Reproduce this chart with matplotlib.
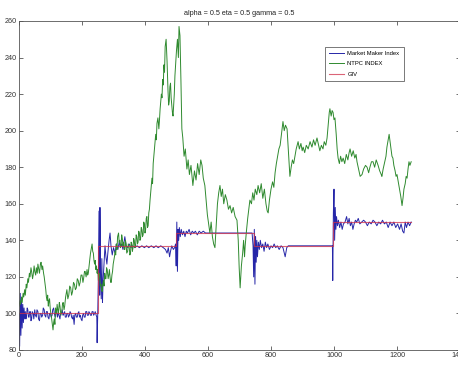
import numpy as np
import matplotlib
matplotlib.use("Agg")
import matplotlib.pyplot as plt

# NTPC index (day, price)
ntpc_pts = [
    (0,104),(3,107),(5,105),(8,109),(10,106),(13,111),(15,109),(18,113),(20,110),(23,116),
    (25,114),(28,119),(30,117),(33,122),(35,120),(38,125),(40,123),(43,119),(45,121),(48,126),
    (50,123),(53,121),(55,125),(58,122),(60,127),(63,124),(65,122),(68,127),(70,128),(73,124),
    (75,126),(78,122),(80,120),(83,116),(85,113),(87,109),(89,107),(91,110),(93,104),(95,107),
    (97,108),(99,103),(101,100),(103,98),(105,95),(108,91),(110,95),(112,97),(114,94),(116,103),
    (119,100),(121,105),(123,102),(125,100),(128,106),(130,104),(133,99),(136,101),(138,105),(140,106),
    (143,102),(145,104),(148,109),(152,113),(155,108),(158,110),(161,115),(164,114),(167,110),(170,112),
    (173,117),(176,116),(179,113),(182,114),(185,119),(188,118),(191,115),(194,117),(197,121),(200,121),
    (203,117),(205,119),(208,123),(210,123),(213,120),(216,124),(218,121),(220,122),(223,127),(225,130),
    (227,133),(229,135),(232,138),(234,134),(236,133),(238,129),(240,127),(242,129),(244,124),(246,126),
    (248,122),(250,124),(252,118),(254,122),(256,121),(258,115),(260,116),(262,113),(264,112),(266,116),
    (268,118),(270,115),(272,122),(274,119),(276,119),(278,125),(280,124),(283,119),(285,121),(287,124),
    (289,120),(291,117),(293,117),(295,121),(297,123),(299,127),(301,129),(303,131),(305,134),(307,132),
    (309,138),(311,135),(313,142),(316,144),(318,139),(320,140),(322,136),(324,137),(326,143),(328,141),
    (330,137),(332,139),(334,135),(336,135),(338,140),(340,138),(342,133),(345,134),(347,138),(350,136),
    (352,132),(354,133),(356,139),(358,138),(360,134),(362,136),(364,141),(366,140),(368,136),(370,137),
    (372,143),(374,142),(376,138),(378,139),(380,145),(382,144),(384,140),(386,141),(388,147),(390,146),
    (392,142),(394,143),(396,150),(398,149),(400,144),(402,146),(404,152),(406,153),(408,147),(410,148),
    (412,155),(414,157),(416,162),(418,166),(420,170),(422,174),(424,171),(426,182),(428,186),(430,190),
    (432,194),(434,198),(436,195),(438,204),(441,207),(444,201),(446,206),(448,212),(450,216),(452,220),
    (454,218),(456,228),(458,225),(460,236),(462,232),(464,246),(467,250),(470,238),(473,222),(475,214),
    (477,216),(479,224),(481,226),(483,218),(485,214),(487,210),(489,208),(491,214),(493,220),(495,230),
    (497,236),(500,244),(503,250),(506,240),(508,257),(511,252),(514,228),(517,201),(520,196),(524,186),
    (528,190),(533,179),(537,184),(541,176),(546,181),(552,170),(557,178),(562,173),(567,182),(572,176),
    (577,184),(581,181),(585,174),(590,170),(594,162),(598,154),(602,149),(606,144),(610,150),(614,142),
    (618,138),(622,136),(626,148),(630,160),(634,166),(638,170),(642,164),(646,168),(650,160),(655,165),
    (660,162),(665,157),(670,159),(675,155),(680,158),(686,153),(692,151),(696,140),(699,125),(702,114),
    (706,126),(710,133),(713,140),(716,131),(718,137),(722,145),(726,152),(730,158),(733,162),(738,160),
    (742,166),(746,162),(750,168),(755,165),(759,170),(764,166),(769,171),(774,163),(779,168),(784,160),
    (788,156),(791,155),(795,162),(800,168),(805,172),(809,169),(813,177),(817,182),(821,186),(825,190),
    (829,192),(833,198),(836,203),(838,205),(842,200),(846,203),(851,201),(854,192),(857,184),(860,175),
    (864,180),(868,184),(872,182),(876,186),(880,190),(886,194),(890,190),(895,193),(899,189),(902,191),
    (907,188),(912,192),(918,190),(924,194),(930,191),(935,195),(940,192),(946,196),(950,193),(955,189),
    (960,192),(965,190),(969,194),(974,192),(978,196),(982,204),(985,210),(987,212),(991,208),(994,211),
    (997,210),(1000,206),(1003,207),(1007,198),(1010,190),(1013,185),(1017,182),(1021,186),(1025,183),(1029,185),
    (1034,182),(1039,187),(1044,184),(1048,188),(1051,190),(1056,186),(1061,189),(1066,185),(1070,187),(1073,183),
    (1078,179),(1083,175),(1089,176),(1094,179),(1100,181),(1105,180),(1110,177),(1114,180),(1119,183),(1124,183),
    (1129,180),(1134,184),(1140,181),(1145,178),(1150,176),(1152,175),(1156,179),(1160,182),(1165,186),(1168,191),
    (1172,195),(1175,198),(1178,194),(1181,190),(1184,186),(1187,185),(1190,181),(1194,178),(1197,175),(1200,176),
    (1204,172),(1208,168),(1212,164),(1216,159),(1219,163),(1222,168),(1226,171),(1229,175),(1232,174),(1235,179),
    (1238,183),(1241,181),(1245,183),
]

# Market maker index (day, price)
mm_pts = [
    (0,100),(2,82),(4,111),(6,88),(8,108),(10,92),(12,105),(14,95),(16,103),(18,97),
    (20,101),(22,97),(24,99),(26,103),(28,102),(30,98),(32,98),(34,101),(36,101),(38,96),
    (40,97),(42,101),(45,100),(47,97),(50,102),(52,99),(55,98),(57,102),(60,101),(62,97),
    (65,96),(67,100),(70,100),(72,98),(75,99),(77,103),(80,102),(82,99),(85,98),(87,101),
    (90,101),(92,98),(95,97),(97,100),(100,100),(102,98),(105,99),(107,102),(110,103),(112,100),
    (115,98),(117,101),(120,100),(122,98),(125,101),(127,99),(130,97),(132,100),(135,100),(137,102),
    (140,99),(142,100),(145,101),(147,98),(150,98),(152,100),(155,100),(157,98),(160,99),(162,101),
    (165,100),(167,98),(170,97),(172,99),(175,94),(177,99),(180,100),(182,98),(185,98),(187,100),
    (190,101),(192,98),(195,99),(197,97),(200,96),(202,99),(205,100),(207,98),(210,98),(212,101),
    (215,101),(217,99),(220,99),(222,101),(225,100),(227,99),(230,99),(232,101),(235,101),(237,99),
    (240,100),(242,101),(245,99),
    (247,98),(248,84),(250,100),(252,120),(254,156),(256,110),(257,158),(259,122),(261,108),(263,130),
    (265,106),(267,118),(270,128),(273,137),(276,131),(279,127),(282,133),(286,140),(289,144),(292,137),
    (296,132),(300,136),(305,133),(309,138),(314,135),(318,139),(322,136),(326,138),(330,135),(336,142),
    (340,137),(345,136),(350,138),(355,136),(360,137),(368,136),(375,137),(382,136),(390,137),(398,136),
    (405,137),(412,136),(420,137),(428,136),(435,137),(442,136),(450,137),(458,136),(465,135),(470,133),
    (474,136),(478,131),(481,134),(485,137),(490,135),(494,136),(497,138),(499,126),(501,150),(503,123),
    (505,146),(507,140),(509,147),(512,142),(515,146),(519,143),(523,145),(527,142),(531,145),(535,144),
    (540,146),(545,143),(550,145),(555,144),(560,145),(566,143),(572,145),(578,144),(585,145),(592,144),
    (740,144),(743,137),(745,120),(747,146),(749,116),(751,142),(753,128),(755,140),(757,131),(760,139),
    (763,135),(766,140),(770,136),(774,138),(778,134),(782,139),(786,136),(790,138),(795,135),(800,137),
    (805,136),(810,138),(815,136),(820,137),(826,135),(832,137),(838,136),(845,131),(850,136),(855,137),
    (995,137),(996,118),(998,155),(1000,168),(1002,140),(1004,158),(1006,146),(1008,153),(1011,148),(1014,151),
    (1018,147),(1022,150),(1026,146),(1030,149),(1035,150),(1040,153),(1044,149),(1048,152),(1052,148),(1056,150),
    (1060,146),(1064,149),(1068,151),(1072,150),(1077,152),(1082,149),(1088,150),(1094,151),(1100,150),(1106,148),
    (1112,150),(1118,149),(1124,151),(1130,150),(1136,148),(1142,150),(1148,149),(1154,151),(1160,149),(1166,150),
    (1172,147),(1178,150),(1184,148),(1190,150),(1196,147),(1202,149),(1208,146),(1213,149),(1218,145),(1222,144),
    (1226,150),(1230,147),(1235,150),(1240,148),(1245,150),
]

# GIV step levels: segment start days and levels
giv_starts = [0, 250, 500, 745, 998, 1245]
giv_levels = [100, 137, 144, 137, 150, 150]

x_ticks = [0, 200, 400, 600, 800, 1000, 1200, 1400]
y_ticks = [80, 100, 120, 140, 160, 180, 200, 220, 240, 260]

plt.rcParams['font.family'] = ['Liberation Sans', 'DejaVu Sans']

fig = plt.figure(figsize=(4.58, 3.67), dpi=100)
ax = fig.add_axes([19/458, 17/367, 441/458, 329/367])

mx, my = zip(*mm_pts)
nx, ny = zip(*ntpc_pts)
ax.plot(mx, my, color='#2626a8', lw=0.7, label='Market Maker Index')
ax.plot(nx, ny, color='#2f8a2f', lw=0.7, label='NTPC INDEX')
ax.plot(giv_starts, giv_levels, drawstyle='steps-post', color='#d0304a',
        lw=0.8, alpha=0.75, label='GIV')

ax.set_xlim(0, 1400)
ax.set_ylim(80, 260)
ax.set_xticks(x_ticks)
ax.set_yticks(y_ticks)
ax.tick_params(direction='in', length=3, width=0.5, labelsize=5.2, pad=1.5,
               top=True, right=True, colors='#333333')
for s in ax.spines.values():
    s.set_linewidth(0.6)
    s.set_color('#555555')

ax.set_title('alpha = 0.5 eta = 0.5 gamma = 0.5', fontsize=5.2, pad=4, color='#222222')

leg = ax.legend(loc='upper right', bbox_to_anchor=(0.872, 0.922), fontsize=4.2,
                frameon=True, fancybox=False, edgecolor='#444444', framealpha=1,
                handlelength=2.6, handletextpad=0.5, borderpad=0.7, labelspacing=0.95,
                borderaxespad=0)
leg.get_frame().set_linewidth(0.5)

fig.savefig('out.png', dpi=100)
